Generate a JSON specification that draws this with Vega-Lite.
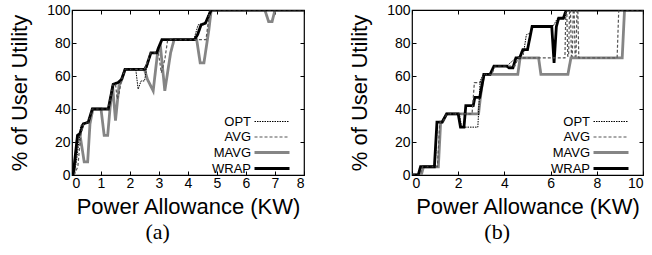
{
  "$schema": "https://vega.github.io/schema/vega-lite/v6.json",
  "padding": {"left": 8, "top": 2, "right": 0, "bottom": 0},
  "spacing": 40,
  "datasets": {
    "a": [
      {"s": "MAVG", "x": 0.06, "y": 0}, {"s": "MAVG", "x": 0.2, "y": 24}, {"s": "MAVG", "x": 0.27, "y": 25}, {"s": "MAVG", "x": 0.42, "y": 8}, {"s": "MAVG", "x": 0.54, "y": 8}, {"s": "MAVG", "x": 0.62, "y": 31}, {"s": "MAVG", "x": 0.72, "y": 40}, {"s": "MAVG", "x": 1.0, "y": 40}, {"s": "MAVG", "x": 1.11, "y": 24}, {"s": "MAVG", "x": 1.23, "y": 24}, {"s": "MAVG", "x": 1.31, "y": 40}, {"s": "MAVG", "x": 1.4, "y": 54}, {"s": "MAVG", "x": 1.5, "y": 33}, {"s": "MAVG", "x": 1.62, "y": 54}, {"s": "MAVG", "x": 1.7, "y": 57}, {"s": "MAVG", "x": 1.83, "y": 64}, {"s": "MAVG", "x": 2.5, "y": 64}, {"s": "MAVG", "x": 2.6, "y": 58}, {"s": "MAVG", "x": 2.8, "y": 51}, {"s": "MAVG", "x": 2.95, "y": 74}, {"s": "MAVG", "x": 3.05, "y": 78}, {"s": "MAVG", "x": 3.2, "y": 51}, {"s": "MAVG", "x": 3.4, "y": 74}, {"s": "MAVG", "x": 3.52, "y": 82}, {"s": "MAVG", "x": 4.3, "y": 82}, {"s": "MAVG", "x": 4.42, "y": 68}, {"s": "MAVG", "x": 4.55, "y": 68}, {"s": "MAVG", "x": 4.72, "y": 88}, {"s": "MAVG", "x": 4.8, "y": 100}, {"s": "MAVG", "x": 6.65, "y": 100}, {"s": "MAVG", "x": 6.78, "y": 93}, {"s": "MAVG", "x": 6.9, "y": 93}, {"s": "MAVG", "x": 7.0, "y": 100}, {"s": "MAVG", "x": 8, "y": 100},
      {"s": "WRAP", "x": 0.04, "y": 0}, {"s": "WRAP", "x": 0.19, "y": 24}, {"s": "WRAP", "x": 0.27, "y": 25}, {"s": "WRAP", "x": 0.39, "y": 31}, {"s": "WRAP", "x": 0.56, "y": 32}, {"s": "WRAP", "x": 0.7, "y": 40}, {"s": "WRAP", "x": 1.25, "y": 40}, {"s": "WRAP", "x": 1.42, "y": 55}, {"s": "WRAP", "x": 1.59, "y": 56}, {"s": "WRAP", "x": 1.71, "y": 58}, {"s": "WRAP", "x": 1.83, "y": 64}, {"s": "WRAP", "x": 2.5, "y": 64}, {"s": "WRAP", "x": 2.57, "y": 66}, {"s": "WRAP", "x": 2.72, "y": 74}, {"s": "WRAP", "x": 2.92, "y": 74}, {"s": "WRAP", "x": 2.98, "y": 77}, {"s": "WRAP", "x": 3.1, "y": 82}, {"s": "WRAP", "x": 4.22, "y": 82}, {"s": "WRAP", "x": 4.33, "y": 85}, {"s": "WRAP", "x": 4.45, "y": 91}, {"s": "WRAP", "x": 4.6, "y": 92}, {"s": "WRAP", "x": 4.8, "y": 100}, {"s": "WRAP", "x": 8, "y": 100},
      {"s": "AVG", "x": 0.07, "y": 0}, {"s": "AVG", "x": 0.2, "y": 5}, {"s": "AVG", "x": 0.3, "y": 24}, {"s": "AVG", "x": 0.4, "y": 31}, {"s": "AVG", "x": 0.56, "y": 32}, {"s": "AVG", "x": 0.7, "y": 40}, {"s": "AVG", "x": 1.25, "y": 40}, {"s": "AVG", "x": 1.42, "y": 55}, {"s": "AVG", "x": 1.5, "y": 55}, {"s": "AVG", "x": 1.56, "y": 46}, {"s": "AVG", "x": 1.63, "y": 50}, {"s": "AVG", "x": 1.71, "y": 58}, {"s": "AVG", "x": 1.83, "y": 64}, {"s": "AVG", "x": 2.5, "y": 64}, {"s": "AVG", "x": 2.72, "y": 74}, {"s": "AVG", "x": 2.98, "y": 74}, {"s": "AVG", "x": 3.08, "y": 62}, {"s": "AVG", "x": 3.2, "y": 70}, {"s": "AVG", "x": 3.3, "y": 82}, {"s": "AVG", "x": 4.3, "y": 82}, {"s": "AVG", "x": 4.62, "y": 82}, {"s": "AVG", "x": 4.75, "y": 100}, {"s": "AVG", "x": 8, "y": 100},
      {"s": "OPT", "x": 0.05, "y": 0}, {"s": "OPT", "x": 0.15, "y": 8}, {"s": "OPT", "x": 0.25, "y": 22}, {"s": "OPT", "x": 0.3, "y": 30}, {"s": "OPT", "x": 0.38, "y": 31}, {"s": "OPT", "x": 0.56, "y": 32}, {"s": "OPT", "x": 0.7, "y": 40}, {"s": "OPT", "x": 1.25, "y": 40}, {"s": "OPT", "x": 1.42, "y": 55}, {"s": "OPT", "x": 1.59, "y": 56}, {"s": "OPT", "x": 1.71, "y": 58}, {"s": "OPT", "x": 1.83, "y": 64}, {"s": "OPT", "x": 2.2, "y": 64}, {"s": "OPT", "x": 2.28, "y": 52}, {"s": "OPT", "x": 2.38, "y": 57}, {"s": "OPT", "x": 2.5, "y": 57}, {"s": "OPT", "x": 2.57, "y": 64}, {"s": "OPT", "x": 2.72, "y": 74}, {"s": "OPT", "x": 2.92, "y": 74}, {"s": "OPT", "x": 3.1, "y": 82}, {"s": "OPT", "x": 4.2, "y": 82}, {"s": "OPT", "x": 4.35, "y": 91}, {"s": "OPT", "x": 4.6, "y": 92}, {"s": "OPT", "x": 4.75, "y": 100}, {"s": "OPT", "x": 8, "y": 100}
    ],
    "b": [
      {"s": "MAVG", "x": 0, "y": 0}, {"s": "MAVG", "x": 0.4, "y": 0}, {"s": "MAVG", "x": 0.5, "y": 5}, {"s": "MAVG", "x": 1.14, "y": 5}, {"s": "MAVG", "x": 1.24, "y": 32}, {"s": "MAVG", "x": 1.32, "y": 32}, {"s": "MAVG", "x": 1.5, "y": 37}, {"s": "MAVG", "x": 2.88, "y": 37}, {"s": "MAVG", "x": 2.97, "y": 48}, {"s": "MAVG", "x": 3.1, "y": 61}, {"s": "MAVG", "x": 4.58, "y": 61}, {"s": "MAVG", "x": 4.68, "y": 71}, {"s": "MAVG", "x": 5.48, "y": 71}, {"s": "MAVG", "x": 5.58, "y": 61}, {"s": "MAVG", "x": 6.75, "y": 61}, {"s": "MAVG", "x": 6.88, "y": 71}, {"s": "MAVG", "x": 9.1, "y": 71}, {"s": "MAVG", "x": 9.2, "y": 100}, {"s": "MAVG", "x": 10, "y": 100},
      {"s": "WRAP", "x": 0, "y": 0}, {"s": "WRAP", "x": 0.27, "y": 0}, {"s": "WRAP", "x": 0.37, "y": 5}, {"s": "WRAP", "x": 0.97, "y": 5}, {"s": "WRAP", "x": 1.08, "y": 32}, {"s": "WRAP", "x": 1.3, "y": 32}, {"s": "WRAP", "x": 1.5, "y": 37}, {"s": "WRAP", "x": 2.0, "y": 37}, {"s": "WRAP", "x": 2.1, "y": 29}, {"s": "WRAP", "x": 2.25, "y": 29}, {"s": "WRAP", "x": 2.33, "y": 42}, {"s": "WRAP", "x": 2.65, "y": 42}, {"s": "WRAP", "x": 2.72, "y": 47}, {"s": "WRAP", "x": 2.93, "y": 47}, {"s": "WRAP", "x": 3.12, "y": 61}, {"s": "WRAP", "x": 3.38, "y": 61}, {"s": "WRAP", "x": 3.55, "y": 66}, {"s": "WRAP", "x": 4.1, "y": 66}, {"s": "WRAP", "x": 4.2, "y": 65}, {"s": "WRAP", "x": 4.37, "y": 65}, {"s": "WRAP", "x": 4.5, "y": 71}, {"s": "WRAP", "x": 4.66, "y": 71}, {"s": "WRAP", "x": 4.8, "y": 76}, {"s": "WRAP", "x": 5.0, "y": 76}, {"s": "WRAP", "x": 5.2, "y": 90}, {"s": "WRAP", "x": 6.05, "y": 90}, {"s": "WRAP", "x": 6.15, "y": 68}, {"s": "WRAP", "x": 6.25, "y": 90}, {"s": "WRAP", "x": 6.35, "y": 95}, {"s": "WRAP", "x": 6.55, "y": 95}, {"s": "WRAP", "x": 6.68, "y": 100}, {"s": "WRAP", "x": 10, "y": 100},
      {"s": "AVG", "x": 0, "y": 0}, {"s": "AVG", "x": 0.35, "y": 0}, {"s": "AVG", "x": 0.45, "y": 5}, {"s": "AVG", "x": 1.1, "y": 5}, {"s": "AVG", "x": 1.2, "y": 32}, {"s": "AVG", "x": 1.32, "y": 32}, {"s": "AVG", "x": 1.5, "y": 37}, {"s": "AVG", "x": 2.6, "y": 37}, {"s": "AVG", "x": 2.7, "y": 56}, {"s": "AVG", "x": 2.95, "y": 56}, {"s": "AVG", "x": 3.1, "y": 61}, {"s": "AVG", "x": 3.45, "y": 61}, {"s": "AVG", "x": 3.6, "y": 66}, {"s": "AVG", "x": 4.45, "y": 66}, {"s": "AVG", "x": 4.6, "y": 71}, {"s": "AVG", "x": 6.62, "y": 71}, {"s": "AVG", "x": 6.66, "y": 100}, {"s": "AVG", "x": 6.7, "y": 100}, {"s": "AVG", "x": 6.74, "y": 72}, {"s": "AVG", "x": 6.78, "y": 72}, {"s": "AVG", "x": 6.82, "y": 100}, {"s": "AVG", "x": 6.86, "y": 100}, {"s": "AVG", "x": 6.9, "y": 72}, {"s": "AVG", "x": 6.94, "y": 72}, {"s": "AVG", "x": 6.98, "y": 100}, {"s": "AVG", "x": 7.02, "y": 100}, {"s": "AVG", "x": 7.06, "y": 72}, {"s": "AVG", "x": 7.1, "y": 72}, {"s": "AVG", "x": 7.14, "y": 100}, {"s": "AVG", "x": 7.18, "y": 100}, {"s": "AVG", "x": 7.22, "y": 71}, {"s": "AVG", "x": 8.88, "y": 71}, {"s": "AVG", "x": 8.95, "y": 100}, {"s": "AVG", "x": 10, "y": 100},
      {"s": "OPT", "x": 0, "y": 0}, {"s": "OPT", "x": 0.3, "y": 0}, {"s": "OPT", "x": 0.4, "y": 5}, {"s": "OPT", "x": 1.0, "y": 5}, {"s": "OPT", "x": 1.1, "y": 32}, {"s": "OPT", "x": 1.3, "y": 32}, {"s": "OPT", "x": 1.5, "y": 37}, {"s": "OPT", "x": 2.05, "y": 37}, {"s": "OPT", "x": 2.15, "y": 29}, {"s": "OPT", "x": 2.85, "y": 29}, {"s": "OPT", "x": 2.95, "y": 57}, {"s": "OPT", "x": 3.1, "y": 61}, {"s": "OPT", "x": 3.38, "y": 61}, {"s": "OPT", "x": 3.55, "y": 66}, {"s": "OPT", "x": 4.1, "y": 66}, {"s": "OPT", "x": 4.5, "y": 71}, {"s": "OPT", "x": 4.82, "y": 73}, {"s": "OPT", "x": 4.95, "y": 85}, {"s": "OPT", "x": 5.12, "y": 86}, {"s": "OPT", "x": 5.25, "y": 90}, {"s": "OPT", "x": 6.1, "y": 90}, {"s": "OPT", "x": 6.3, "y": 95}, {"s": "OPT", "x": 6.6, "y": 95}, {"s": "OPT", "x": 6.7, "y": 100}, {"s": "OPT", "x": 10, "y": 100}
    ]
  },
  "hconcat": [
    {
      "width": 232, "height": 165,
      "data": {"name": "a"},
      "title": {"text": "(a)", "orient": "bottom", "font": "Liberation Serif", "fontSize": 22, "fontWeight": "normal", "anchor": "middle", "frame": "bounds", "offset": 5, "color": "#000"},
      "layer": [
        {
          "mark": {"type": "line", "clip": true},
          "encoding": {
            "x": {"field": "x", "type": "quantitative", "scale": {"domain": [0, 8], "nice": false}, "axis": {"title": "Power Allowance (KW)", "values": [0, 1, 2, 3, 4, 5, 6, 7, 8]}},
            "y": {"field": "y", "type": "quantitative", "scale": {"domain": [0, 100], "nice": false}, "axis": {"title": "% of User Utility", "values": [0, 20, 40, 60, 80, 100]}},
            "color": {"field": "s", "type": "nominal", "scale": {"domain": ["OPT", "AVG", "MAVG", "WRAP"], "range": ["#000000", "#555555", "#858585", "#000000"]}, "legend": {"title": null, "orient": "none", "legendX": 181, "legendY": 104}},
            "strokeDash": {"field": "s", "type": "nominal", "scale": {"domain": ["OPT", "AVG", "MAVG", "WRAP"], "range": [[1.5, 1], [3, 2], [1, 0], [1, 0]]}, "legend": null},
            "strokeWidth": {"field": "s", "type": "ordinal", "scale": {"type": "ordinal", "domain": ["OPT", "AVG", "MAVG", "WRAP"], "range": [1, 1.2, 2.8, 2.8]}, "legend": null}
          }
        },
        {
          "mark": {"type": "point", "opacity": 0},
          "encoding": {
            "x": {"field": "x", "type": "quantitative", "axis": {"orient": "top", "labels": false, "title": null, "values": [0, 1, 2, 3, 4, 5, 6, 7, 8]}},
            "y": {"field": "y", "type": "quantitative", "axis": {"orient": "right", "labels": false, "title": null, "values": [0, 20, 40, 60, 80, 100]}}
          }
        }
      ],
      "resolve": {"axis": {"x": "independent", "y": "independent"}}
    },
    {
      "width": 231, "height": 165,
      "data": {"name": "b"},
      "title": {"text": "(b)", "orient": "bottom", "font": "Liberation Serif", "fontSize": 22, "fontWeight": "normal", "anchor": "middle", "frame": "bounds", "offset": 5, "color": "#000"},
      "layer": [
        {
          "mark": {"type": "line", "clip": true},
          "encoding": {
            "x": {"field": "x", "type": "quantitative", "scale": {"domain": [0, 10], "nice": false}, "axis": {"title": "Power Allowance (KW)", "values": [0, 2, 4, 6, 8, 10]}},
            "y": {"field": "y", "type": "quantitative", "scale": {"domain": [0, 100], "nice": false}, "axis": {"title": "% of User Utility", "values": [0, 20, 40, 60, 80, 100]}},
            "color": {"field": "s", "type": "nominal", "scale": {"domain": ["OPT", "AVG", "MAVG", "WRAP"], "range": ["#000000", "#555555", "#858585", "#000000"]}, "legend": {"title": null, "orient": "none", "legendX": 180, "legendY": 104}},
            "strokeDash": {"field": "s", "type": "nominal", "scale": {"domain": ["OPT", "AVG", "MAVG", "WRAP"], "range": [[1.5, 1], [3, 2], [1, 0], [1, 0]]}, "legend": null},
            "strokeWidth": {"field": "s", "type": "ordinal", "scale": {"type": "ordinal", "domain": ["OPT", "AVG", "MAVG", "WRAP"], "range": [1, 1.2, 2.8, 2.8]}, "legend": null}
          }
        },
        {
          "mark": {"type": "point", "opacity": 0},
          "encoding": {
            "x": {"field": "x", "type": "quantitative", "axis": {"orient": "top", "labels": false, "title": null, "values": [0, 2, 4, 6, 8, 10]}},
            "y": {"field": "y", "type": "quantitative", "axis": {"orient": "right", "labels": false, "title": null, "values": [0, 20, 40, 60, 80, 100]}}
          }
        }
      ],
      "resolve": {"axis": {"x": "independent", "y": "independent"}}
    }
  ],
  "resolve": {"scale": {"color": "independent", "strokeDash": "independent", "strokeWidth": "independent"}, "legend": {"color": "independent"}},
  "config": {
    "view": {"stroke": "#000000", "strokeWidth": 1.2},
    "axis": {"domain": false, "grid": false, "labelFont": "Liberation Sans", "labelFontSize": 14, "labelColor": "#000000", "titleFont": "Liberation Sans", "titleFontSize": 22, "titleFontWeight": "normal", "titleColor": "#000000", "tickColor": "#000000", "tickSize": -4, "labelPadding": 5},
    "axisX": {"titlePadding": 6},
    "axisY": {"titlePadding": 15, "labelPadding": 6},
    "legend": {
      "padding": 0, "symbolType": "M-1,0H4", "symbolSize": 196, "rowPadding": 0,
      "labelFont": "Liberation Sans", "labelFontSize": 13, "labelColor": "#000000", "labelAlign": "right", "labelOffset": -19,
      "symbolFillColor": "transparent",
      "encode": {
        "symbols": {"update": {
          "fill": {"value": "transparent"},
          "strokeDash": {"signal": "datum.value === 'OPT' ? [1.5, 1] : datum.value === 'AVG' ? [3, 2] : [1, 0]"},
          "strokeWidth": {"signal": "datum.value === 'MAVG' || datum.value === 'WRAP' ? 2.8 : 1.2"}
        }}
      }
    }
  }
}
